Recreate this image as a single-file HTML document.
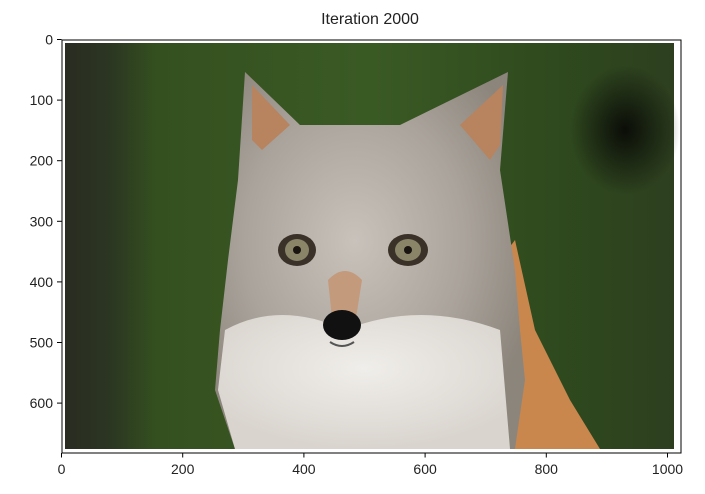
<!DOCTYPE html>
<html><head><meta charset="utf-8">
<style>
body{margin:0;background:#fff;}
svg{display:block;font-family:"Liberation Sans","DejaVu Sans",sans-serif;}
</style></head>
<body>
<svg width="705" height="494" viewBox="0 0 705 494">
<defs>
<linearGradient id="bg" x1="0" y1="0" x2="1" y2="0">
<stop offset="0" stop-color="#2a2c22"/><stop offset="0.07" stop-color="#2b3522"/>
<stop offset="0.15" stop-color="#34501f"/><stop offset="0.5" stop-color="#3a5a24"/>
<stop offset="0.8" stop-color="#2f4a1e"/><stop offset="1" stop-color="#2d3f1f"/>
</linearGradient>
<radialGradient id="face" cx="0.45" cy="0.45" r="0.6">
<stop offset="0" stop-color="#c8c2bb"/><stop offset="0.6" stop-color="#aaa39b"/><stop offset="1" stop-color="#8c857c"/>
</radialGradient>
<radialGradient id="dark" cx="0.5" cy="0.5" r="0.5">
<stop offset="0" stop-color="#0b0d08"/><stop offset="1" stop-color="#0b0d08" stop-opacity="0"/>
</radialGradient>
<radialGradient id="chest" cx="0.5" cy="0.4" r="0.6">
<stop offset="0" stop-color="#f0eeea"/><stop offset="1" stop-color="#d9d4ce"/>
</radialGradient>
</defs>
<text x="370" y="24" text-anchor="middle" font-size="16" fill="#222">Iteration 2000</text>
<g>
<rect x="62" y="40" width="619" height="413" fill="#fff"/>
<rect x="65" y="43" width="609" height="406" fill="url(#bg)"/>
<ellipse cx="625" cy="130" rx="55" ry="65" fill="url(#dark)"/>
<path d="M470 300 L515 240 L535 330 L570 400 L600 449 L400 449 Z" fill="#c9874e"/>
<path d="M245 72 L300 125 L400 125 L508 72 L500 170 L515 270 L520 330 L525 380 L515 449 L235 449 L215 390 L220 330 L228 260 L238 180 Z" fill="url(#face)"/>
<path d="M252 85 L290 125 L262 150 L252 140 Z" fill="#b8835f"/>
<path d="M503 85 L460 125 L490 160 L500 145 Z" fill="#b8835f"/>
<path d="M225 330 Q280 300 345 330 Q420 300 500 330 L510 449 L235 449 L218 390 Z" fill="url(#chest)"/>
<path d="M328 280 Q345 262 362 280 L356 318 L332 318 Z" fill="#c49a7c"/>
<ellipse cx="297" cy="250" rx="19" ry="16" fill="#3a3229"/>
<ellipse cx="297" cy="250" rx="12" ry="11" fill="#8a8468"/>
<circle cx="297" cy="250" r="4" fill="#1a1510"/>
<ellipse cx="408" cy="250" rx="20" ry="16" fill="#3a3229"/>
<ellipse cx="408" cy="250" rx="13" ry="11" fill="#8a8468"/>
<circle cx="408" cy="250" r="4" fill="#1a1510"/>
<ellipse cx="342" cy="325" rx="19" ry="15" fill="#111"/>
<path d="M330 342 Q342 350 354 342" stroke="#555" stroke-width="2" fill="none"/>
<rect x="62" y="40" width="619" height="413" fill="none" stroke="#000" stroke-width="1"/>
</g>
<g id="xt"></g>
<g id="yt"></g>
</svg>
<script>
const xTicks=[0,200,400,600,800,1000];
const yTicks=[0,100,200,300,400,500,600];
const ns='http://www.w3.org/2000/svg';
const x0=61.5,y0=39.5,s=0.606;
function X(v){return x0+v*s;} function Y(v){return y0+v*s;}
const xg=document.getElementById('xt'),yg=document.getElementById('yt');
xTicks.forEach(v=>{
 const l=document.createElementNS(ns,'line');
 l.setAttribute('x1',X(v));l.setAttribute('x2',X(v));l.setAttribute('y1',453);l.setAttribute('y2',457.5);l.setAttribute('stroke','#000');
 
 
 xg.appendChild(l);
 const t=document.createElementNS(ns,'text');
 t.setAttribute('x',X(v));t.setAttribute('y',474);t.setAttribute('text-anchor','middle');t.setAttribute('font-size','14');t.setAttribute('fill','#222');
 t.textContent=v;
 
 
 xg.appendChild(t);
});
yTicks.forEach(v=>{
 const l=document.createElementNS(ns,'line');
 l.setAttribute('x1',57);l.setAttribute('x2',61.5);l.setAttribute('y1',Y(v));l.setAttribute('y2',Y(v));l.setAttribute('stroke','#000');
 
 
 yg.appendChild(l);
 const t=document.createElementNS(ns,'text');
 t.setAttribute('x',53);t.setAttribute('y',Y(v)+5);t.setAttribute('text-anchor','end');t.setAttribute('font-size','14');t.setAttribute('fill','#222');
 t.textContent=v;
 
 
 yg.appendChild(t);
});
</script>
</body></html>
